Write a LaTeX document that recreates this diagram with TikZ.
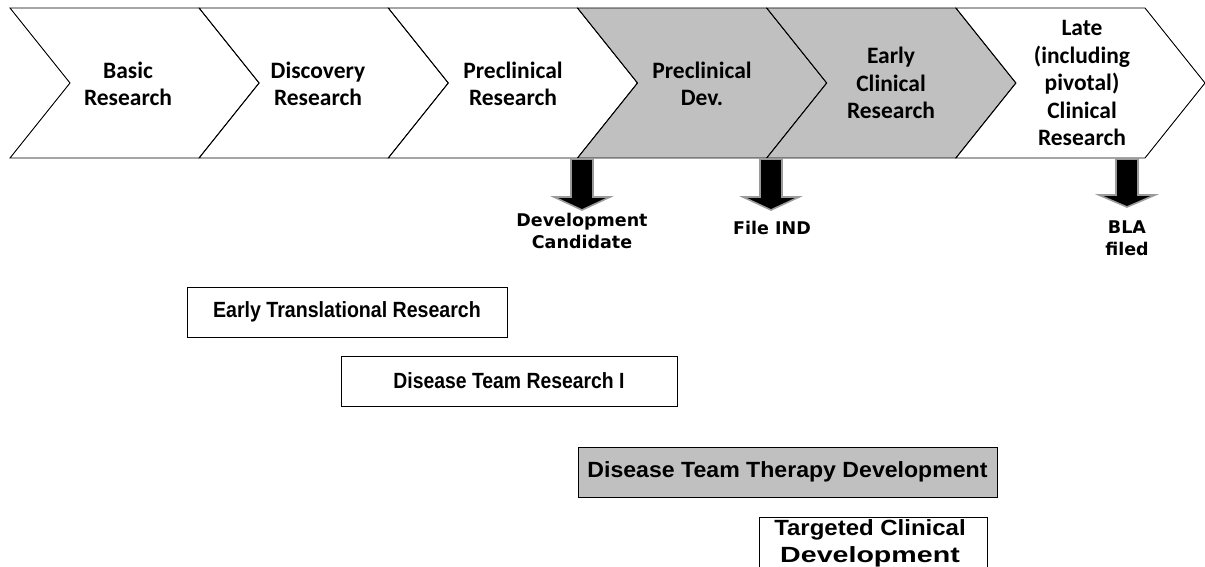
\documentclass[tikz,border=0pt]{standalone}
\usepackage{fontspec}
\usepackage{graphicx}
\newfontfamily\calfont{Carlito}
\newfontfamily\arfont{Liberation Sans}
\newfontfamily\dvfont{DejaVu Sans}
\definecolor{phasegray}{HTML}{C0C0C0}
\definecolor{arrowedge}{HTML}{9A9A9A}
\tikzset{
  chev/.style={draw=black, line width=0.9pt, line join=miter},
  chevtext/.style={font=\calfont\bfseries\fontsize{23.5}{27.5}\selectfont, align=center, inner sep=0pt},
  milestone/.style={font=\dvfont\bfseries\fontsize{17.5}{22}\selectfont, align=center, inner sep=0pt},
  blockarrow/.style={fill=black, draw=arrowedge, line width=1.6pt, line join=miter},
  program/.style={draw=black, line width=0.8pt, inner sep=0pt, minimum height=50pt,
    font=\arfont\bfseries\fontsize{22}{27}\selectfont, align=center},
}
\begin{document}
\begin{tikzpicture}[x=1pt,y=-1pt]
\useasboundingbox (0,0) rectangle (1205,567);
\clip (0,0) rectangle (1205,567);

% chevrons
\foreach \i/\f in {0/white,1/white,2/white,3/phasegray,4/phasegray,5/white}{
  \pgfmathsetmacro{\xa}{10+189.2*\i}
  \path[chev, fill=\f] (\xa,8) -- ++(189,0) -- ++(60,75) -- ++(-60,75) -- ++(-189,0) -- ++(60,-75) -- cycle;
}
\node[chevtext] (c1) at (128,84) {Basic\\Research};
\node[chevtext] (c2) at (318,84) {Discovery\\Research};
\node[chevtext] (c3) at (513,84) {Preclinical\\Research};
\node[chevtext] (c4) at (702,84) {Preclinical\\Dev.};
\node[chevtext] (c5) at (891,83) {Early\\Clinical\\Research};
\node[chevtext] (c6) at (1082,83) {Late\\(including\\pivotal)\\Clinical\\Research};

% milestone block arrows
\foreach \cx/\ht/\tip in {582/197/210, 771/197/210, 1127/195/207}{
  \path[blockarrow] (\cx-11,159) -- (\cx+11,159) -- (\cx+11,\ht) -- (\cx+28,\ht)
     -- (\cx,\tip) -- (\cx-28,\ht) -- (\cx-11,\ht) -- cycle;
}
\node[milestone] (m1) at (582,231) {Development\\Candidate};
\node[milestone] (m2) at (772,228) {File IND};
\node[milestone] (m3) at (1127,238) {BLA\\filed};

% programs
\node[program, minimum width=320pt] (p1) at (347,312) {\scalebox{0.89}[1]{Early Translational Research}};
\node[program, minimum width=336pt] (p2) at (509,381) {\scalebox{0.88}[1]{Disease Team Research I}};
\node[program, minimum width=419pt, fill=phasegray] (p3) at (787.5,472) {\scalebox{1.05}[1]{Disease Team Therapy Development}};
\draw[line width=0.8pt] (759,517) rectangle (987,590);
\node[font=\arfont\bfseries\fontsize{22}{27}\selectfont, align=center, inner sep=0pt] (p4) at (870,543)
  {\scalebox{1.09}[1]{Targeted Clinical}\\\scalebox{1.3}[1]{Development}};
\end{tikzpicture}
\end{document}
